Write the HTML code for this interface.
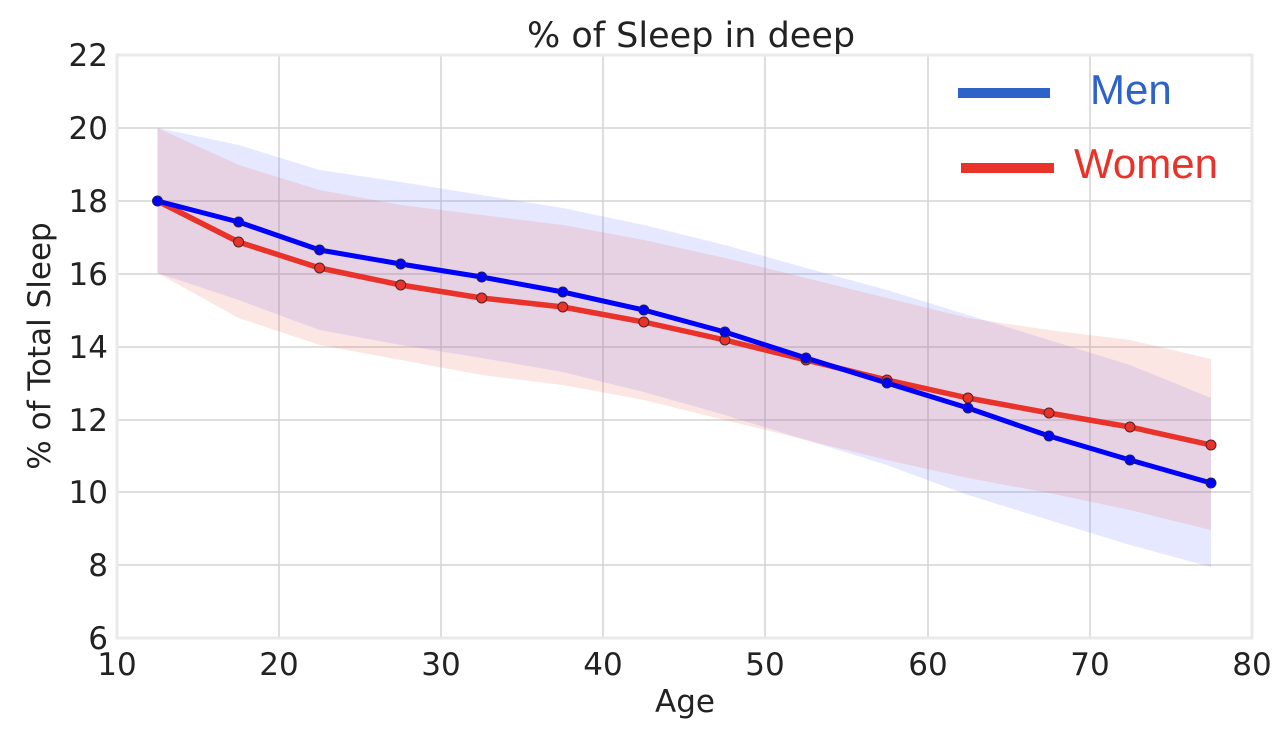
<!DOCTYPE html>
<html><head><meta charset="utf-8"><style>body{margin:0;background:#fff}</style></head><body>
<svg width="1280" height="737" xmlns="http://www.w3.org/2000/svg" font-family="'DejaVu Sans','Liberation Sans',sans-serif">
<rect width="1280" height="737" fill="#fff"/>
<g stroke="#d4d4d4" stroke-width="1.5">
<line x1="279" y1="55" x2="279" y2="638"/><line x1="441" y1="55" x2="441" y2="638"/><line x1="603" y1="55" x2="603" y2="638"/><line x1="765" y1="55" x2="765" y2="638"/><line x1="928" y1="55" x2="928" y2="638"/><line x1="1090" y1="55" x2="1090" y2="638"/>
<line x1="117" y1="128" x2="1252" y2="128"/><line x1="117" y1="201" x2="1252" y2="201"/><line x1="117" y1="274" x2="1252" y2="274"/><line x1="117" y1="347" x2="1252" y2="347"/><line x1="117" y1="420" x2="1252" y2="420"/><line x1="117" y1="492" x2="1252" y2="492"/><line x1="117" y1="565" x2="1252" y2="565"/>
</g>
<rect x="117" y="55" width="1135" height="583" fill="none" stroke="#eaeaea" stroke-width="3"/>
<polygon fill="rgba(110,130,255,0.18)" points="157.5,128 238.6,145 319.6,170 400.7,182 481.7,195 562.8,208 643.8,225 724.9,245 806,268 887,290 968,315 1049,340 1130,365 1211,398 1211,567 1130,545 1049,520 968,495 887,465 806,440 724.9,415 643.8,392 562.8,372 481.7,358 400.7,345 319.6,330 238.6,300 157.5,273"/>
<polygon fill="rgba(235,90,70,0.15)" points="157.5,128 238.6,165 319.6,190 400.7,205 481.7,215 562.8,225 643.8,240 724.9,258 806,278 887,298 968,318 1049,330 1130,340 1211,359 1211,530 1130,510 1049,493 968,478 887,460 806,440 724.9,420 643.8,400 562.8,385 481.7,375 400.7,360 319.6,345 238.6,318 157.5,273"/>
<polyline fill="none" stroke="#e8322a" stroke-width="5.5" stroke-linejoin="round" points="157.5,201 238.6,242 319.6,268 400.7,285 481.7,298 562.8,307 643.8,322 724.9,340 806,360 887,380 968,398 1049,413 1130,427 1211,445"/>
<polyline fill="none" stroke="#0000ff" stroke-width="5" stroke-linejoin="round" points="157.5,201 238.6,222 319.6,250 400.7,264 481.7,277 562.8,292 643.8,310 724.9,332 806,358 887,383 968,408 1049,436 1130,460 1211,483"/>
<g fill="#e8322a" stroke="#552222" stroke-width="1"><circle cx="238.6" cy="242" r="5"/><circle cx="319.6" cy="268" r="5"/><circle cx="400.7" cy="285" r="5"/><circle cx="481.7" cy="298" r="5"/><circle cx="562.8" cy="307" r="5"/><circle cx="643.8" cy="322" r="5"/><circle cx="724.9" cy="340" r="5"/><circle cx="806" cy="360" r="5"/><circle cx="887" cy="380" r="5"/><circle cx="968" cy="398" r="5"/><circle cx="1049" cy="413" r="5"/><circle cx="1130" cy="427" r="5"/><circle cx="1211" cy="445" r="5"/></g>
<g fill="#0000ff" stroke="#222255" stroke-width="1"><circle cx="157.5" cy="201" r="5"/><circle cx="238.6" cy="222" r="5"/><circle cx="319.6" cy="250" r="5"/><circle cx="400.7" cy="264" r="5"/><circle cx="481.7" cy="277" r="5"/><circle cx="562.8" cy="292" r="5"/><circle cx="643.8" cy="310" r="5"/><circle cx="724.9" cy="332" r="5"/><circle cx="806" cy="358" r="5"/><circle cx="887" cy="383" r="5"/><circle cx="968" cy="408" r="5"/><circle cx="1049" cy="436" r="5"/><circle cx="1130" cy="460" r="5"/><circle cx="1211" cy="483" r="5"/></g>
<g font-size="31" fill="#222" text-anchor="end">
<text x="108" y="66">22</text><text x="108" y="139">20</text><text x="108" y="212">18</text><text x="108" y="285">16</text><text x="108" y="358">14</text><text x="108" y="431">12</text><text x="108" y="503">10</text><text x="108" y="576">8</text><text x="108" y="649">6</text>
</g>
<g font-size="31" fill="#222" text-anchor="middle">
<text x="117" y="675">10</text><text x="279" y="675">20</text><text x="441" y="675">30</text><text x="603" y="675">40</text><text x="765" y="675">50</text><text x="928" y="675">60</text><text x="1090" y="675">70</text><text x="1252" y="675">80</text>
<text x="685" y="712">Age</text>
<text x="691" y="47" font-size="35">% of Sleep in deep</text>
<text transform="translate(50,346) rotate(-90)">% of Total Sleep</text>
</g>
<line x1="958" y1="93" x2="1050" y2="93" stroke="#2d62c8" stroke-width="10"/>
<line x1="961" y1="168" x2="1054" y2="168" stroke="#e8322a" stroke-width="10"/>
<text x="1090" y="104" font-family="'Liberation Sans',sans-serif" font-size="42" fill="#2d62c8">Men</text>
<text x="1074" y="178" font-family="'Liberation Sans',sans-serif" font-size="42" fill="#e8322a">Women</text>
</svg>
</body></html>
